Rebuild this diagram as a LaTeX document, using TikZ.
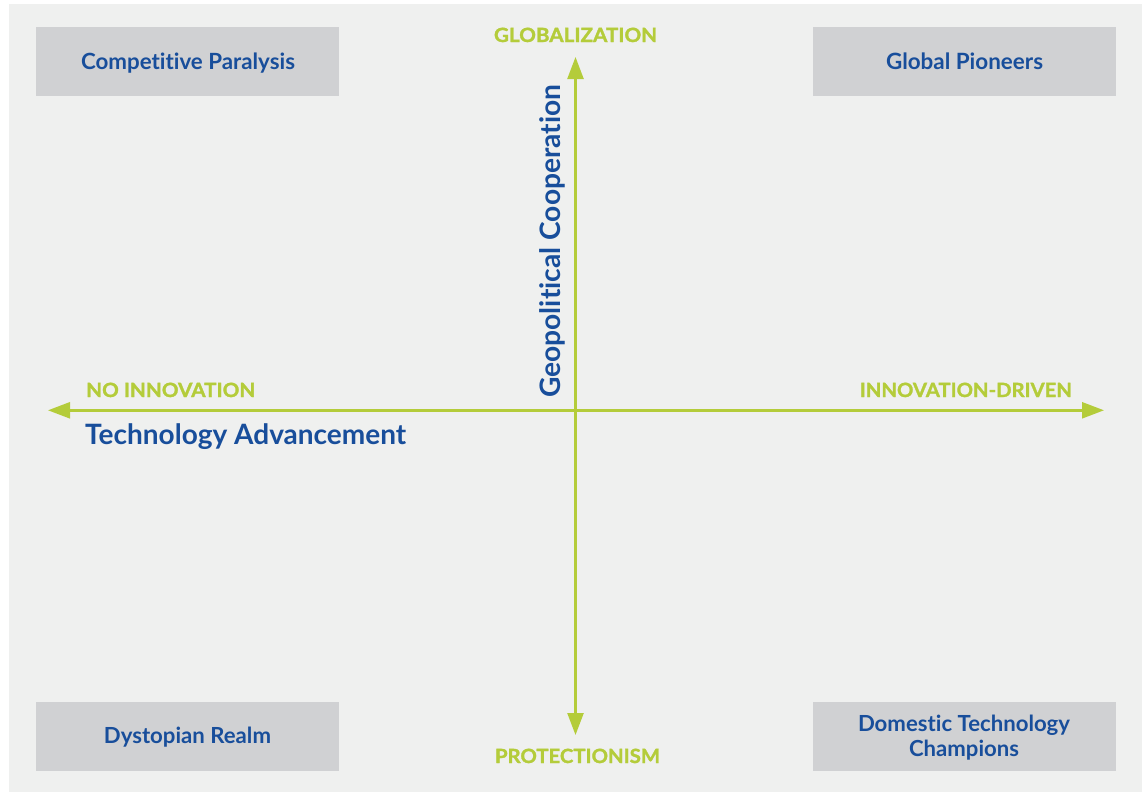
\documentclass[tikz,border=0pt]{standalone}
\usepackage{fontspec}
\setmainfont{Lato}[Ligatures={NoCommon}]
\usetikzlibrary{arrows.meta}
\definecolor{panelgray}{RGB}{239,240,239}
\definecolor{boxgray}{RGB}{208,209,211}
\definecolor{axisgreen}{RGB}{180,204,58}
\definecolor{titleblue}{RGB}{24,78,155}
\newcommand{\fitw}[2]{\resizebox{#1}{!}{#2}}
\newcommand{\fitwh}[3]{\resizebox{#1}{#2}{#3}}
\newcommand{\nl}{\mbox{}}
\tikzset{
  scenbox/.style={fill=boxgray, draw=none, minimum width=303pt, minimum height=69pt, inner sep=0pt},
  scentext/.style={text=titleblue, font=\bfseries, inner sep=0pt, anchor=base},
  poletext/.style={text=axisgreen, font=\bfseries\addfontfeatures{FakeBold=1.5}, inner sep=0pt, anchor=base},
  axistitle/.style={text=titleblue, font=\bfseries, inner sep=0pt},
  axisline/.style={draw=axisgreen, line width=2.4pt,
    {Triangle[length=22pt,width=16pt]}-{Triangle[length=22pt,width=16pt]}}
}
\begin{document}
\begin{tikzpicture}[x=1pt,y=-1pt]
\useasboundingbox (0,0) rectangle (1142,792);
\fill[white] (0,0) rectangle (1142,792);
\fill[panelgray] (9,4) rectangle (1142,792);

% scenario boxes
\node[scenbox] (cpbox) at (187.5,61.5) {};
\node[scenbox] (gpbox) at (964.5,61.5) {};
\node[scenbox] (drbox) at (187.5,736.5) {};
\node[scenbox] (dtbox) at (964.5,736.5) {};

\node[scentext] (cp) at (188,69) {\fitw{214pt}{Compet\nl i\nl t\nl ive Paralysis}};
\node[scentext] (gp) at (964.5,69) {\fitw{157pt}{Global Pioneers}};
\node[scentext] (dr) at (187.5,743) {\fitw{167pt}{Dystopian Realm}};
\node[scentext] (dt1) at (964,731) {\fitw{212pt}{Domest\nl ic Technology}};
\node[scentext] (dt2) at (964,756) {\fitw{110pt}{Champions}};

% axes
\coordinate (W) at (48,410.3);
\coordinate (E) at (1104,410.3);
\coordinate (N) at (575.5,57);
\coordinate (S) at (575.5,735);
\draw[axisline] (W) -- (E);
\draw[axisline] (S) -- (N);

% pole labels
\node[poletext] (glob) at (575.5,42) {\fitwh{163pt}{14.3pt}{GLOBALIZATION}};
\node[poletext] (prot) at (577.5,763) {\fitwh{165pt}{14.3pt}{PROTECTIONISM}};
\node[poletext, anchor=base west] (noinn) at (86,397) {\fitwh{169pt}{14.3pt}{NO INNOVATION}};
\node[poletext, anchor=base east] (inn) at (1072,397) {\fitwh{212pt}{14.3pt}{INNOVATION-DRIVEN}};

% axis titles
\node[axistitle, anchor=base west] (tech) at (85,444) {\fitw{321pt}{Technology Advancement}};
\node[axistitle, anchor=base west, rotate=90] (geo) at (560,398) {\fitw{313pt}{Geopolit\nl ical Cooperat\nl ion}};
\end{tikzpicture}
\end{document}
